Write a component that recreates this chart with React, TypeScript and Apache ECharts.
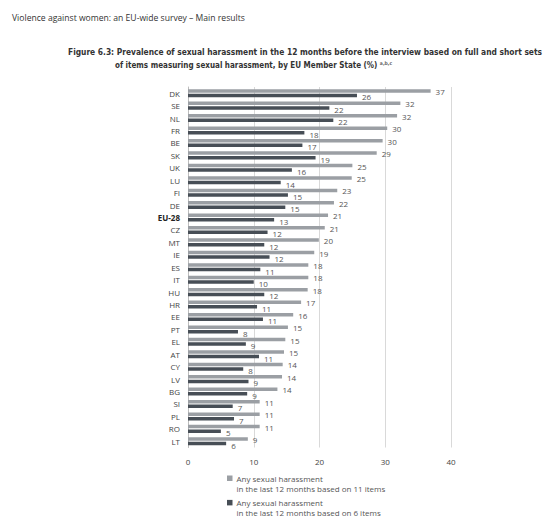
import React, { useEffect, useRef } from "react";
import * as echarts from "echarts";

const countries = [
  "DK", "SE", "NL", "FR", "BE", "SK", "UK", "LU", "FI", "DE", "EU-28",
  "CZ", "MT", "IE", "ES", "IT", "HU", "HR", "EE", "PT", "EL", "AT",
  "CY", "LV", "BG", "SI", "PL", "RO", "LT",
];

// Any sexual harassment, last 12 months, 11 items
const fullSet = [
  36.9, 32.3, 31.8, 30.3, 29.6, 28.7, 25.0, 24.9, 22.7, 22.2, 21.3,
  20.8, 19.9, 19.2, 18.3, 18.3, 18.2, 17.2, 16.0, 15.2, 14.8, 14.6,
  14.4, 14.3, 13.6, 10.9, 10.9, 10.9, 9.1,
];

// Any sexual harassment, last 12 months, 6 items
const shortSet = [
  25.7, 21.5, 22.1, 17.7, 17.4, 19.4, 15.8, 14.1, 15.2, 14.8, 13.1,
  12.1, 11.6, 12.4, 11.0, 10.0, 11.6, 10.5, 11.4, 7.6, 8.8, 10.8,
  8.4, 9.2, 9.0, 6.8, 7.0, 5.0, 5.8,
];

const xTicks = [0, 10, 20, 30, 40];

const seriesNames = [
  "Any sexual harassment\nin the last 12 months based on 11 items",
  "Any sexual harassment\nin the last 12 months based on 6 items",
];

const LIGHT = "#9b9fa4";
const DARK = "#474e56";
const FONT = "'Open Sans', 'Noto Sans', sans-serif";
const NARROW = "'DejaVu Sans Condensed', 'Liberation Sans Narrow', Roboto, sans-serif";

const App = () => {
  const chartRef = useRef<HTMLDivElement>(null);

  useEffect(() => {
    const chart = echarts.init(chartRef.current!, null, { renderer: "svg" });

    // legend drawn by hand so the square sits on the first line
    const legendItems = seriesNames.map((name, i) => {
      const lines = name.split("\n");
      return {
        type: "group",
        x: 227,
        y: 473.5 + i * 24.4,
        children: [
          { type: "rect", shape: { x: 0, y: 2, width: 5.5, height: 5.5 }, style: { fill: i === 0 ? LIGHT : DARK } },
          ...lines.map((line, j) => ({
            type: "text",
            x: 9.5,
            y: j * 10,
            style: {
              text: line,
              fontSize: 8,
              lineHeight: 10,
              fontFamily: FONT,
              fill: "#555",
            },
          })),
        ],
      };
    });

    const option = {
      animation: false,
      textStyle: { fontFamily: FONT },
      title: [
        {
          text: "Violence against women: an EU-wide survey – Main results",
          left: 7,
          top: 8,
          textStyle: { fontSize: 8.6, fontWeight: "normal", color: "#333", fontFamily: FONT },
        },
        {
          text: "Figure 6.3: Prevalence of sexual harassment in the 12 months before the interview based on full and short sets",
          left: 63,
          top: 43,
          textStyle: { fontSize: 8.35, fontWeight: "bold", color: "#333", fontFamily: NARROW },
        },
        {
          text: "of items measuring sexual harassment, by EU Member State (%) {sup|a,b,c}",
          left: 110,
          top: 55,
          textStyle: {
            fontSize: 8,
            fontWeight: "bold",
            color: "#333",
            fontFamily: NARROW,
            rich: {
              sup: { fontSize: 5, verticalAlign: "top", color: "#666", fontFamily: NARROW, padding: [0, 0, 6, 0] },
            },
          },
        },
      ],
      grid: { left: 188, top: 87, width: 263, height: 360.5, containLabel: false },
      xAxis: {
        type: "value",
        min: xTicks[0],
        max: xTicks[xTicks.length - 1],
        interval: 10,
        axisLine: { show: false },
        axisTick: { show: false },
        axisLabel: { fontSize: 8, color: "#444", margin: 10, fontFamily: FONT },
        splitLine: { lineStyle: { color: "#d9d9d9", width: 1 } },
      },
      yAxis: {
        type: "category",
        data: countries,
        inverse: true,
        axisLine: { show: true, lineStyle: { color: "#bdbdbd" } },
        axisTick: { show: false },
        axisLabel: {
          fontSize: 8,
          color: "#444",
          margin: 8,
          fontFamily: FONT,
          formatter: (v: string) => (v === "EU-28" ? `{b|${v}}` : v),
          rich: { b: { fontWeight: "bold", fontSize: 8, color: "#222", fontFamily: FONT } },
        },
      },
      series: [
        {
          name: seriesNames[0],
          type: "bar",
          data: fullSet,
          barWidth: 3.5,
          barGap: "30%",
          itemStyle: { color: LIGHT },
          label: {
            show: true,
            position: "right",
            distance: 5,
            offset: [0, 0.5],
            fontSize: 8,
            color: "#555",
            fontFamily: FONT,
            formatter: (p: any) => String(Math.round(p.value)),
          },
        },
        {
          name: seriesNames[1],
          type: "bar",
          data: shortSet,
          barWidth: 3.5,
          barGap: "30%",
          itemStyle: { color: DARK },
          label: {
            show: true,
            position: "right",
            distance: 5,
            offset: [0, 1.5],
            fontSize: 8,
            color: "#555",
            fontFamily: FONT,
            formatter: (p: any) => String(Math.round(p.value)),
          },
        },
      ],
      graphic: legendItems,
    };

    chart.setOption(option);
    return () => {
      chart.dispose();
    };
  }, []);

  return (
    <div
      ref={chartRef}
      style={{ position: "absolute", left: 0, top: 0, width: 547, height: 519, background: "#fff" }}
    ></div>
  );
};

export default App;
